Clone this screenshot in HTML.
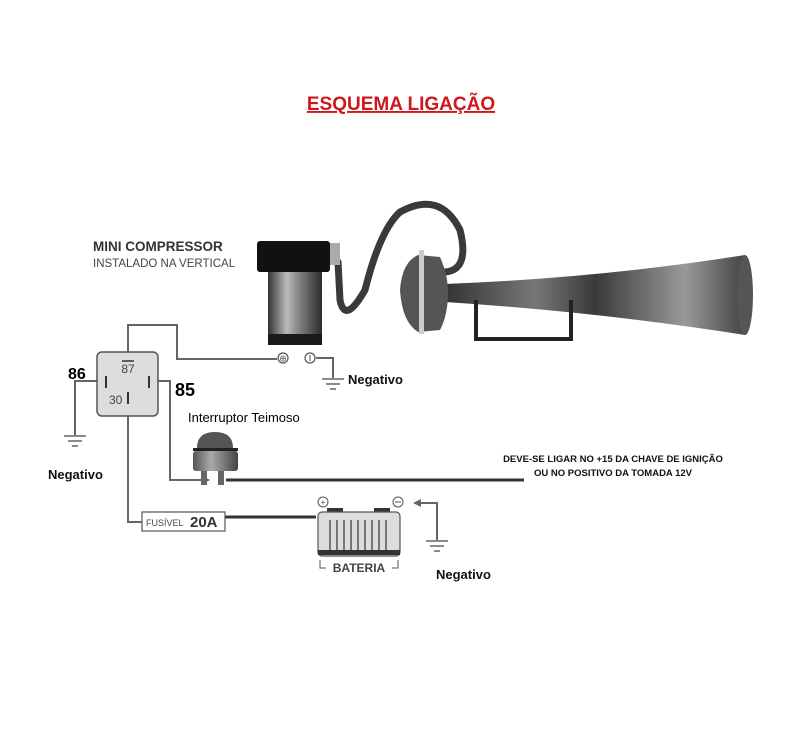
<!DOCTYPE html>
<html><head><meta charset="utf-8"><style>
html,body{margin:0;padding:0;background:#fff}
svg{display:block}
text{font-family:"Liberation Sans","DejaVu Sans",sans-serif}
</style></head><body>
<svg width="800" height="744" viewBox="0 0 800 744" xmlns="http://www.w3.org/2000/svg">
<defs>
<linearGradient id="cyl" x1="0" x2="1" y1="0" y2="0">
<stop offset="0" stop-color="#333"/><stop offset="0.35" stop-color="#bbb"/><stop offset="0.55" stop-color="#888"/><stop offset="1" stop-color="#2a2a2a"/></linearGradient>
<linearGradient id="horn" x1="0" x2="1" y1="0" y2="0">
<stop offset="0" stop-color="#333"/><stop offset="0.3" stop-color="#777"/><stop offset="0.5" stop-color="#3a3a3a"/><stop offset="0.8" stop-color="#999"/><stop offset="1" stop-color="#444"/></linearGradient>
<linearGradient id="sw" x1="0" x2="1"><stop offset="0" stop-color="#555"/><stop offset="0.4" stop-color="#aaa"/><stop offset="1" stop-color="#444"/></linearGradient>
</defs>
<text x="401" y="110" text-anchor="middle" font-size="19" font-weight="bold" fill="#d0161b" text-decoration="underline">ESQUEMA LIGAÇÃO</text>

<text x="93" y="251" font-size="13.5" font-weight="bold" fill="#333">MINI COMPRESSOR</text>
<text x="93" y="267" font-size="11.5" fill="#444">INSTALADO NA VERTICAL</text>

<!-- hose -->
<path d="M338 262 L340 300 Q345 325 365 290 Q380 230 400 212 Q440 190 460 230 Q470 270 445 272" fill="none" stroke="#3a3a3a" stroke-width="7" stroke-linecap="round"/>
<rect x="330" y="243" width="10" height="22" fill="#aaa"/>
<!-- compressor -->
<rect x="257" y="241" width="73" height="31" rx="3" fill="#111"/>
<rect x="268" y="272" width="54" height="64" fill="url(#cyl)"/>
<rect x="268" y="334" width="54" height="11" fill="#1a1a1a"/>

<!-- horn -->
<path d="M445 284 Q600 278 745 255 L745 335 Q600 312 445 302 Z" fill="url(#horn)"/>
<ellipse cx="745" cy="295" rx="8" ry="40" fill="#555"/>
<path d="M400 290 Q402 262 418 255 L440 257 Q448 275 448 292 Q448 315 440 330 L418 332 Q402 322 400 290 Z" fill="#555"/>
<rect x="419" y="250" width="5" height="84" fill="#ccc"/>
<path d="M476 300 V339 H571 V300" fill="none" stroke="#222" stroke-width="4"/>

<!-- wires -->
<g fill="none" stroke="#666" stroke-width="2">
<path d="M128 352 V325 H177 V359 H277"/>
<path d="M316 358 H333 V378"/>
<path d="M97 381 H75 V435"/>
<path d="M152 381 H170 V480 H203"/>
<path d="M128 400 V522 H142"/>
<path d="M437 540 V503 H415"/>
</g>
<polygon points="203,476 210,480 203,484" fill="#666"/>
<polygon points="413,503 421,499 421,507" fill="#666"/>
<g stroke="#666" stroke-width="1.5">
<line x1="322" y1="379" x2="344" y2="379"/><line x1="326" y1="384" x2="340" y2="384"/><line x1="330" y1="389" x2="336" y2="389"/>
<line x1="64" y1="436" x2="86" y2="436"/><line x1="68" y1="441" x2="82" y2="441"/><line x1="72" y1="446" x2="78" y2="446"/>
<line x1="426" y1="541" x2="448" y2="541"/><line x1="430" y1="546" x2="444" y2="546"/><line x1="434" y1="551" x2="440" y2="551"/>
</g>
<line x1="225" y1="517" x2="316" y2="517" stroke="#333" stroke-width="3"/>
<line x1="226" y1="480" x2="524" y2="480" stroke="#333" stroke-width="3"/>

<!-- terminals -->
<circle cx="283" cy="358" r="5" fill="#fff" stroke="#555" stroke-width="1.2"/>
<text x="283" y="361.5" text-anchor="middle" font-size="9" fill="#555">⊕</text>
<circle cx="310" cy="358" r="5" fill="#fff" stroke="#555" stroke-width="1.2"/>
<line x1="310" y1="355" x2="310" y2="361" stroke="#555"/>

<!-- relay -->
<rect x="97" y="352" width="61" height="64" rx="5" fill="#ddd" stroke="#555" stroke-width="1.5"/>
<line x1="122" y1="361" x2="134" y2="361" stroke="#333" stroke-width="1.5"/>
<text x="128" y="373" text-anchor="middle" font-size="12" fill="#444">87</text>
<line x1="106" y1="376" x2="106" y2="388" stroke="#333" stroke-width="2"/>
<line x1="149" y1="376" x2="149" y2="388" stroke="#333" stroke-width="2"/>
<text x="109" y="404" font-size="12" fill="#444">30</text>
<line x1="128" y1="392" x2="128" y2="404" stroke="#333" stroke-width="2"/>
<text x="68" y="379" font-size="16" font-weight="bold" fill="#000">86</text>
<text x="175" y="396" font-size="18" font-weight="bold" fill="#000">85</text>

<!-- switch -->
<text x="188" y="422" font-size="13" fill="#000">Interruptor Teimoso</text>
<path d="M197 448 Q197 432 215 432 Q233 432 233 448 Z" fill="#555"/>
<rect x="193" y="448" width="45" height="3" fill="#222"/>
<rect x="193" y="451" width="45" height="20" rx="3" fill="url(#sw)"/>
<rect x="201" y="471" width="6" height="14" fill="#666"/>
<rect x="218" y="471" width="6" height="14" fill="#666"/>

<!-- fuse -->
<rect x="142" y="512" width="83" height="19" fill="#fff" stroke="#555" stroke-width="1.2"/>
<text x="146" y="526" font-size="9" fill="#444">FUSÍVEL</text>
<text x="190" y="527" font-size="15" font-weight="bold" fill="#333">20A</text>

<!-- battery -->
<circle cx="323" cy="502" r="5" fill="#fff" stroke="#555"/>
<text x="323" y="505.5" text-anchor="middle" font-size="9" fill="#555">+</text>
<circle cx="398" cy="502" r="5" fill="#fff" stroke="#555"/>
<line x1="395" y1="502" x2="401" y2="502" stroke="#555"/>
<rect x="327" y="508" width="16" height="5" fill="#333"/>
<rect x="374" y="508" width="16" height="5" fill="#333"/>
<rect x="318" y="512" width="82" height="44" rx="4" fill="#ddd" stroke="#555" stroke-width="1.2"/>
<g stroke="#555" stroke-width="1.5">
<line x1="330" y1="520" x2="330" y2="550"/><line x1="337" y1="520" x2="337" y2="550"/><line x1="344" y1="520" x2="344" y2="550"/><line x1="351" y1="520" x2="351" y2="550"/><line x1="358" y1="520" x2="358" y2="550"/><line x1="365" y1="520" x2="365" y2="550"/><line x1="372" y1="520" x2="372" y2="550"/><line x1="379" y1="520" x2="379" y2="550"/><line x1="386" y1="520" x2="386" y2="550"/>
</g>
<rect x="318" y="550" width="82" height="5" fill="#333"/>
<path d="M320 560 V568 H326 M392 568 H398 V560" fill="none" stroke="#555"/>
<text x="359" y="572" text-anchor="middle" font-size="12" font-weight="bold" fill="#444">BATERIA</text>

<!-- labels -->
<text x="348" y="384" font-size="13" font-weight="bold" fill="#111">Negativo</text>
<text x="48" y="479" font-size="13" font-weight="bold" fill="#111">Negativo</text>
<text x="436" y="579" font-size="13" font-weight="bold" fill="#111">Negativo</text>
<text x="613" y="462" text-anchor="middle" font-size="9.5" font-weight="bold" fill="#111">DEVE-SE LIGAR NO +15 DA CHAVE DE IGNIÇÃO</text>
<text x="613" y="476" text-anchor="middle" font-size="9.5" font-weight="bold" fill="#111">OU NO POSITIVO DA TOMADA 12V</text>
</svg>
</body></html>
